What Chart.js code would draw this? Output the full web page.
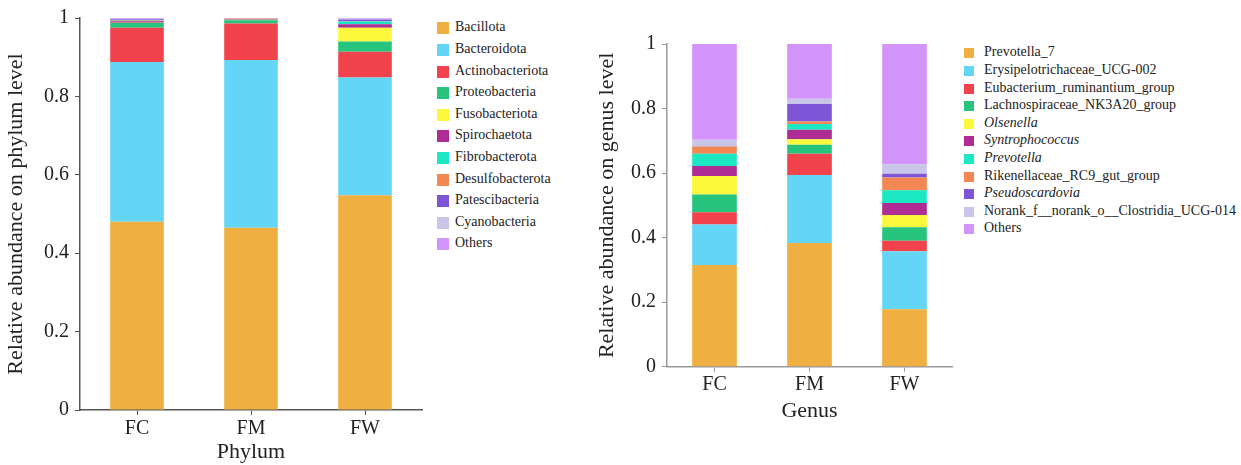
<!DOCTYPE html>
<html>
<head>
<meta charset="utf-8">
<script src="https://cdn.jsdelivr.net/npm/chart.js@4/dist/chart.umd.min.js"></script>
<style>
  html, body { margin: 0; padding: 0; background: #fff; }
  body { width: 1241px; height: 465px; position: relative; overflow: hidden; font-family: "Liberation Serif", serif; }
  canvas { position: absolute; }
  .legend { position: absolute; }
  .item { position: absolute; white-space: nowrap; color: #222; font-size: 14px; line-height: 14px; }
  .box { position: absolute; left: 0; }
  .lbl { position: absolute; }
</style>
</head>
<body>
<canvas id="c1" width="430" height="465" style="left:0;top:0;width:430px;height:465px"></canvas>
<canvas id="c2" width="370" height="424" style="left:590px;top:0;width:370px;height:424px"></canvas>
<div id="leg1" class="legend" style="left:437px;top:0"></div>
<div id="leg2" class="legend" style="left:964px;top:0"></div>
<script>
// ---------- DATA ----------
const categories = ['FC', 'FM', 'FW'];
const yTickLabels = ['0', '0.2', '0.4', '0.6', '0.8', '1'];

// Phylum level
const phylumNames = ['Bacillota', 'Bacteroidota', 'Actinobacteriota', 'Proteobacteria', 'Fusobacteriota',
  'Spirochaetota', 'Fibrobacterota', 'Desulfobacterota', 'Patescibacteria', 'Cyanobacteria', 'Others'];
const bacillota        = [0.480, 0.465, 0.548];
const bacteroidota     = [0.408, 0.428, 0.300];
const actinobacteriota = [0.087, 0.093, 0.066];
const proteobacteria   = [0.012, 0.008, 0.026];
const fusobacteriota   = [0.001, 0.0005, 0.035];
const spirochaetota    = [0.004, 0.001, 0.009];
const fibrobacterota   = [0.001, 0.0005, 0.007];
const desulfobacterota = [0.001, 0.003, 0.001];
const patescibacteria  = [0.003, 0.0005, 0.004];
const cyanobacteria    = [0.001, 0.0005, 0.002];
const phylumOthers     = [0.002, 0.0002, 0.002];

// Genus level
const genusNames = ['Prevotella_7', 'Erysipelotrichaceae_UCG-002', 'Eubacterium_ruminantium_group',
  'Lachnospiraceae_NK3A20_group', 'Olsenella', 'Syntrophococcus', 'Prevotella', 'Rikenellaceae_RC9_gut_group',
  'Pseudoscardovia', 'Norank_f__norank_o__Clostridia_UCG-014', 'Others'];
const genusItalic = [false, false, false, false, true, true, true, false, true, false, false];
const prevotella7      = [0.315, 0.383, 0.178];
const erysipelotrich   = [0.126, 0.211, 0.180];
const eubacterium      = [0.038, 0.066, 0.032];
const lachnospiraceae  = [0.055, 0.028, 0.042];
const olsenella        = [0.057, 0.017, 0.038];
const syntrophococcus  = [0.031, 0.029, 0.037];
const prevotella       = [0.038, 0.018, 0.040];
const rikenellaceae    = [0.022, 0.008, 0.039];
const pseudoscardovia  = [0.001, 0.054, 0.012];
const norankClostridia = [0.020, 0.016, 0.029];
const genusOthers      = [0.297, 0.170, 0.373];

const palette = ['#EFAF41', '#63D6F7', '#F2424B', '#27C47E', '#FBF73A', '#AE2C93',
  '#1BE8C2', '#F38753', '#7F55D7', '#C8C5E8', '#D293FA'];

const phylumSeries = [bacillota, bacteroidota, actinobacteriota, proteobacteria, fusobacteriota,
  spirochaetota, fibrobacterota, desulfobacterota, patescibacteria, cyanobacteria, phylumOthers];
const genusSeries = [prevotella7, erysipelotrich, eubacterium, lachnospiraceae, olsenella,
  syntrophococcus, prevotella, rikenellaceae, pseudoscardovia, norankClostridia, genusOthers];

// ---------- CHARTS ----------
const FONT = '"Liberation Serif", serif';
const TXT = '#222';

function makeDatasets(names, series) {
  return names.map((n, i) => ({
    label: n,
    data: series[i],
    backgroundColor: palette[i],
    borderWidth: 0,
    barPercentage: 0.47,
    categoryPercentage: 1.0
  }));
}

function makeChart(id, names, series, cfg) {
  return new Chart(document.getElementById(id), {
    type: 'bar',
    data: { labels: categories, datasets: makeDatasets(names, series) },
    options: {
      responsive: false,
      animation: false,
      devicePixelRatio: 1,
      layout: { padding: { top: cfg.padTop, right: 8, left: 0, bottom: 0 } },
      plugins: { legend: { display: false }, tooltip: { enabled: false } },
      scales: {
        x: {
          stacked: true,
          offset: true,
          grid: { display: true, drawOnChartArea: false, drawTicks: true, tickLength: 5, offset: false, color: cfg.axisColor, lineWidth: 1 },
          border: { display: true, color: cfg.axisColor, width: 1.5 },
          ticks: { color: TXT, font: { family: FONT, size: 20 }, padding: cfg.xPad, maxRotation: 0 },
          title: { display: true, text: cfg.xTitle, color: TXT, font: { family: FONT, size: 22 }, padding: { top: 0, bottom: 0 } },
          afterFit: (s) => { s.height = cfg.xHeight; }
        },
        y: {
          stacked: true,
          min: 0, max: 1,
          grid: { display: true, drawOnChartArea: false, drawTicks: true, tickLength: 5, color: cfg.axisColor, lineWidth: 1 },
          border: { display: true, color: cfg.axisColor, width: 1.5 },
          ticks: { stepSize: 0.2, color: TXT, font: { family: FONT, size: 20 }, padding: 6,
            callback: (v, i) => yTickLabels[i] },
          title: { display: true, text: cfg.yTitle, color: TXT, font: { family: FONT, size: 22 }, padding: { top: cfg.yTitlePad, bottom: 0 } },
          afterFit: (s) => { s.width = cfg.yWidth; }
        }
      }
    }
  });
}

makeChart('c1', phylumNames, phylumSeries, {
  padTop: 16, xHeight: 55, yWidth: 80, xPad: 2, yTitlePad: 3,
  axisColor: '#555', xTitle: 'Phylum', yTitle: 'Relative abundance on phylum level'
});
makeChart('c2', genusNames, genusSeries, {
  padTop: 44, xHeight: 57.3, yWidth: 77, xPad: 1, yTitlePad: 4,
  axisColor: '#999', xTitle: 'Genus', yTitle: 'Relative abundance on genus level'
});

// ---------- LEGENDS ----------
function buildLegend(elId, names, italics, firstCenter, step, boxSize, textLeft) {
  const el = document.getElementById(elId);
  names.forEach((n, i) => {
    const cy = firstCenter + i * step;
    const item = document.createElement('div');
    item.className = 'item';
    item.style.top = (cy - 7) + 'px';
    const box = document.createElement('div');
    box.className = 'box';
    box.style.width = boxSize + 'px';
    box.style.height = boxSize + 'px';
    box.style.top = (7 - boxSize / 2) + 'px';
    box.style.background = palette[i];
    const lbl = document.createElement('span');
    lbl.className = 'lbl';
    lbl.style.left = textLeft + 'px';
    lbl.style.top = '-1px';
    lbl.textContent = n;
    if (italics && italics[i]) lbl.style.fontStyle = 'italic';
    item.appendChild(box);
    item.appendChild(lbl);
    el.appendChild(item);
  });
}
buildLegend('leg1', phylumNames, null, 28.3, 21.6, 12, 18);
buildLegend('leg2', genusNames, genusItalic, 53.3, 17.6, 10, 20);
</script>
</body>
</html>
